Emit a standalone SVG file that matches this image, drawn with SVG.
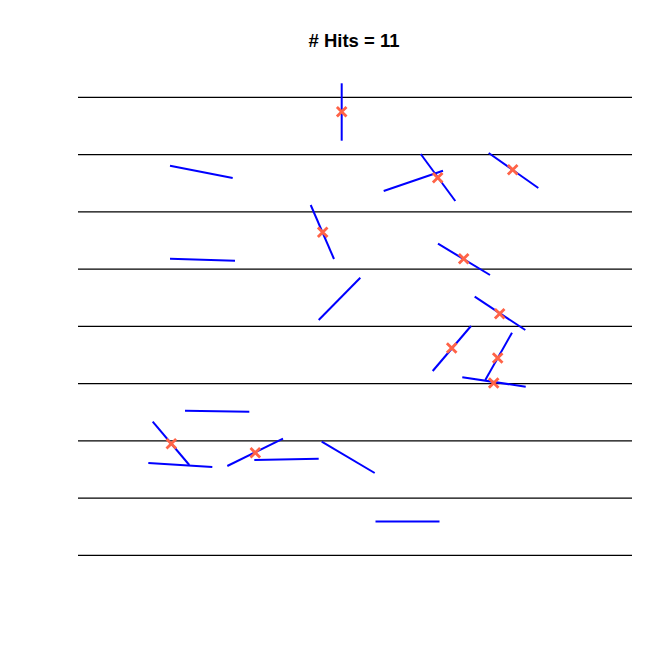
<svg xmlns="http://www.w3.org/2000/svg" width="672" height="672" viewBox="0 0 672 672">
<style>
.grid line{stroke:#000;stroke-width:1.2}
.needle{stroke:#0000FF;stroke-width:2;stroke-linecap:butt}
.title{font-family:"Liberation Sans",Arial,sans-serif;font-weight:bold;font-size:18.5px;fill:#000}
</style>
<defs>
<path id="x" d="M-4.8,-4.8 L4.8,4.8 M-4.8,4.8 L4.8,-4.8" stroke="#FF6347" stroke-width="2.8" fill="none"/>
</defs>
<rect width="672" height="672" fill="#fff"/>
<text class="title" x="354" y="47" text-anchor="middle"># Hits = 11</text>
<g id="grid" class="grid">
<line x1="78" y1="97.3" x2="632" y2="97.3"/>
<line x1="78" y1="154.55" x2="632" y2="154.55"/>
<line x1="78" y1="211.8" x2="632" y2="211.8"/>
<line x1="78" y1="269.05" x2="632" y2="269.05"/>
<line x1="78" y1="326.3" x2="632" y2="326.3"/>
<line x1="78" y1="383.55" x2="632" y2="383.55"/>
<line x1="78" y1="440.8" x2="632" y2="440.8"/>
<line x1="78" y1="498.05" x2="632" y2="498.05"/>
<line x1="78" y1="555.3" x2="632" y2="555.3"/>
</g>
<g id="needles">
<line class="needle" x1="170" y1="165.7" x2="232.7" y2="178"/>
<line class="needle" x1="170" y1="258.7" x2="235" y2="260.7"/>
<line class="needle" x1="341.7" y1="83.3" x2="341.7" y2="140.7"/>
<line class="needle" x1="310.7" y1="205" x2="334" y2="259"/>
<line class="needle" x1="420.7" y1="154" x2="455.3" y2="201"/>
<line class="needle" x1="383.7" y1="191" x2="443" y2="170.7"/>
<line class="needle" x1="488.7" y1="153" x2="538.3" y2="188"/>
<line class="needle" x1="438" y1="243.7" x2="490" y2="275"/>
<line class="needle" x1="474.7" y1="296.7" x2="525.3" y2="330"/>
<line class="needle" x1="471" y1="326" x2="432.7" y2="371"/>
<line class="needle" x1="512" y1="332.7" x2="485.3" y2="380"/>
<line class="needle" x1="462.3" y1="377.3" x2="525.7" y2="386.7"/>
<line class="needle" x1="318.7" y1="320" x2="360.3" y2="277.7"/>
<line class="needle" x1="185" y1="410.7" x2="249.3" y2="411.7"/>
<line class="needle" x1="152.7" y1="421.7" x2="189.3" y2="465"/>
<line class="needle" x1="148.3" y1="463" x2="212.3" y2="467"/>
<line class="needle" x1="227.3" y1="466" x2="283" y2="438.7"/>
<line class="needle" x1="254.3" y1="460" x2="318.7" y2="458.7"/>
<line class="needle" x1="321.7" y1="441.7" x2="374.7" y2="473"/>
<line class="needle" x1="375.5" y1="521.5" x2="439.5" y2="521.5"/>
</g>
<g id="hits">
<use href="#x" x="341.7" y="111.7"/>
<use href="#x" x="322.7" y="232.3"/>
<use href="#x" x="437.7" y="177.7"/>
<use href="#x" x="512.7" y="169.7"/>
<use href="#x" x="463.7" y="258.7"/>
<use href="#x" x="499.7" y="313.7"/>
<use href="#x" x="451.7" y="348"/>
<use href="#x" x="497.7" y="358"/>
<use href="#x" x="493.7" y="383"/>
<use href="#x" x="171.3" y="443.7"/>
<use href="#x" x="255.3" y="452.7"/>
</g>
</svg>
